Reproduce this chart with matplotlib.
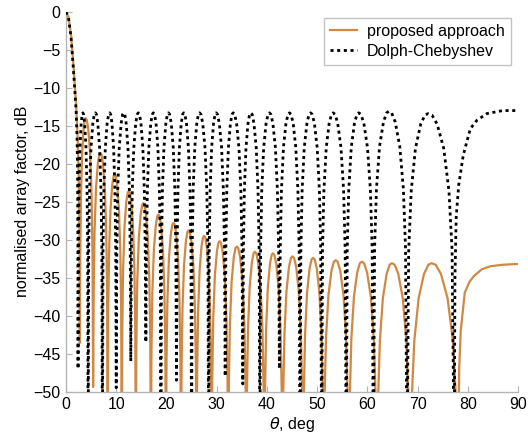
"""
Диаграмма направленности: предложенный подход и Дольф-Чебышев
"""

import matplotlib
matplotlib.use('Agg')
import matplotlib.pyplot as plt

plt.rcParams['font.family'] = ['Liberation Sans', 'DejaVu Sans']

# Dolph-Chebyshev (чёрная пунктирная), точки сняты с картинки
# каждая строка: ноль, левый склон, вершина, правый склон
dolph_theta = [
    0.0, 0.5, 1.0, 1.5, 2.0, 2.2, 2.3, 2.36,
    2.4, 2.48, 2.59, 2.78, 3.02, 3.21, 3.35, 3.51, 3.72, 3.98, 4.19, 4.32,
    4.4, 4.52, 4.69, 4.98, 5.34, 5.63, 5.85, 6.06, 6.34, 6.69, 6.97, 7.14,
    7.25, 7.37, 7.54, 7.83, 8.19, 8.48, 8.7, 8.90, 9.16, 9.48, 9.74, 9.90,
    10.0, 10.12, 10.30, 10.60, 10.98, 11.28, 11.5, 11.71, 11.99, 12.34, 12.62, 12.79,
    12.9, 13.02, 13.20, 13.50, 13.88, 14.18, 14.4, 14.63, 14.93, 15.30, 15.60, 15.78,
    15.9, 16.02, 16.20, 16.50, 16.88, 17.18, 17.4, 17.63, 17.93, 18.30, 18.60, 18.78,
    18.9, 19.02, 19.20, 19.50, 19.88, 20.18, 20.4, 20.64, 20.96, 21.36, 21.68, 21.87,
    22.0, 22.12, 22.29, 22.58, 22.94, 23.23, 23.45, 23.68, 23.99, 24.38, 24.69, 24.88,
    25.0, 25.13, 25.32, 25.64, 26.04, 26.36, 26.6, 26.87, 27.23, 27.68, 28.04, 28.26,
    28.4, 28.52, 28.70, 29.00, 29.38, 29.68, 29.9, 30.17, 30.53, 30.98, 31.34, 31.56,
    31.7, 31.83, 32.02, 32.34, 32.74, 33.06, 33.3, 33.59, 33.97, 34.44, 34.82, 35.05,
    35.2, 35.33, 35.52, 35.84, 36.24, 36.56, 36.8, 37.07, 37.43, 37.88, 38.24, 38.46,
    38.6, 38.75, 38.98, 39.36, 39.84, 40.22, 40.5, 40.80, 41.20, 41.70, 42.10, 42.34,
    42.5, 42.66, 42.90, 43.30, 43.80, 44.20, 44.5, 44.82, 45.24, 45.76, 46.18, 46.43,
    46.6, 46.77, 47.02, 47.44, 47.97, 48.39, 48.7, 49.03, 49.47, 50.02, 50.46, 50.72,
    50.9, 51.08, 51.36, 51.82, 52.40, 52.86, 53.2, 53.59, 54.11, 54.76, 55.28, 55.59,
    55.8, 56.00, 56.30, 56.80, 57.43, 57.93, 58.3, 58.74, 59.32, 60.04, 60.62, 60.97,
    61.2, 61.45, 61.82, 62.44, 63.22, 63.84, 64.3, 64.84, 65.56, 66.46, 67.18, 67.61,
    67.9, 68.24, 68.74, 69.58, 70.63, 71.47, 72.1, 72.88, 73.92, 75.22, 76.26, 76.88,
    77.3, 77.45, 77.7, 78.2, 79.1, 80.5, 81.8, 83.8, 87.0, 90.0,
]
dolph_db = [
    0.0, -0.8, -3.3, -7.8, -12.8, -16.5, -21.0, -30.0,
    -47.0, -31.3, -23.5, -17.9, -14.7, -13.5, -13.3, -13.5, -14.7, -17.9, -23.5, -31.3,
    -60.0, -31.3, -23.5, -17.9, -14.7, -13.5, -13.3, -13.5, -14.7, -17.9, -23.5, -31.3,
    -60.0, -31.3, -23.5, -17.9, -14.7, -13.5, -13.3, -13.5, -14.7, -17.9, -23.5, -31.3,
    -49.5, -31.3, -23.5, -17.9, -14.7, -13.5, -13.3, -13.5, -14.7, -17.9, -23.5, -31.3,
    -46.0, -31.3, -23.5, -17.9, -14.7, -13.5, -13.3, -13.5, -14.7, -17.9, -23.5, -31.3,
    -43.5, -31.3, -23.5, -17.9, -14.7, -13.5, -13.3, -13.5, -14.7, -17.9, -23.5, -31.3,
    -60.0, -31.3, -23.5, -17.9, -14.7, -13.5, -13.3, -13.5, -14.7, -17.9, -23.5, -31.3,
    -48.5, -31.3, -23.5, -17.9, -14.7, -13.5, -13.3, -13.5, -14.7, -17.9, -23.5, -31.3,
    -60.0, -31.3, -23.5, -17.9, -14.7, -13.5, -13.3, -13.5, -14.7, -17.9, -23.5, -31.3,
    -60.0, -31.3, -23.5, -17.9, -14.7, -13.5, -13.3, -13.5, -14.7, -17.9, -23.5, -31.3,
    -48.0, -31.3, -23.5, -17.9, -14.7, -13.5, -13.3, -13.5, -14.7, -17.9, -23.5, -31.3,
    -49.0, -31.3, -23.5, -17.9, -14.7, -13.5, -13.3, -13.5, -14.7, -17.9, -23.5, -31.3,
    -60.0, -31.3, -23.5, -17.9, -14.7, -13.5, -13.3, -13.5, -14.7, -17.9, -23.5, -31.3,
    -47.0, -31.3, -23.5, -17.9, -14.7, -13.5, -13.3, -13.5, -14.7, -17.9, -23.5, -31.3,
    -60.0, -31.3, -23.5, -17.9, -14.7, -13.5, -13.3, -13.5, -14.7, -17.9, -23.5, -31.3,
    -60.0, -31.3, -23.5, -17.9, -14.7, -13.5, -13.3, -13.5, -14.7, -17.9, -23.5, -31.3,
    -60.0, -31.3, -23.5, -17.9, -14.7, -13.5, -13.3, -13.5, -14.7, -17.9, -23.5, -31.3,
    -60.0, -31.1, -23.3, -17.7, -14.5, -13.3, -13.1, -13.3, -14.5, -17.7, -23.3, -31.1,
    -60.0, -31.4, -23.6, -18.0, -14.8, -13.6, -13.4, -13.6, -14.8, -18.0, -23.6, -31.4,
    -60.0, -35.0, -27.0, -22.8, -18.9, -15.4, -14.3, -13.4, -13.0, -13.0,
]

# предложенный подход (оранжевая линия)
proposed_theta = [
    0.0, 0.5, 1.0, 1.5, 2.0, 2.3, 2.55, 2.7,
    2.75, 2.84, 2.98, 3.21, 3.50, 3.73, 3.9, 4.13, 4.43, 4.80, 5.10, 5.28,
    5.4, 5.52, 5.69, 5.98, 6.34, 6.63, 6.85, 7.07, 7.36, 7.72, 8.01, 8.18,
    8.3, 8.41, 8.58, 8.86, 9.21, 9.49, 9.7, 9.91, 10.19, 10.54, 10.82, 10.99,
    11.1, 11.21, 11.38, 11.66, 12.01, 12.29, 12.5, 12.71, 12.99, 13.34, 13.62, 13.79,
    13.9, 14.02, 14.20, 14.50, 14.88, 15.18, 15.4, 15.63, 15.93, 16.30, 16.60, 16.78,
    16.9, 17.02, 17.20, 17.50, 17.88, 18.18, 18.4, 18.63, 18.93, 19.30, 19.60, 19.78,
    19.9, 20.02, 20.20, 20.50, 20.88, 21.18, 21.4, 21.63, 21.93, 22.30, 22.60, 22.78,
    22.9, 23.02, 23.20, 23.50, 23.88, 24.18, 24.4, 24.64, 24.96, 25.36, 25.68, 25.87,
    26.0, 26.12, 26.30, 26.60, 26.98, 27.28, 27.5, 27.73, 28.03, 28.40, 28.70, 28.88,
    29.0, 29.13, 29.32, 29.64, 30.04, 30.36, 30.6, 30.86, 31.20, 31.62, 31.96, 32.16,
    32.3, 32.44, 32.64, 32.98, 33.41, 33.75, 34.0, 34.29, 34.67, 35.14, 35.52, 35.75,
    35.9, 36.04, 36.24, 36.58, 37.01, 37.35, 37.6, 37.89, 38.27, 38.74, 39.12, 39.35,
    39.5, 39.64, 39.84, 40.18, 40.61, 40.95, 41.2, 41.49, 41.87, 42.34, 42.72, 42.95,
    43.1, 43.26, 43.50, 43.90, 44.40, 44.80, 45.1, 45.42, 45.84, 46.36, 46.78, 47.03,
    47.2, 47.36, 47.60, 48.00, 48.50, 48.90, 49.2, 49.52, 49.94, 50.46, 50.88, 51.13,
    51.3, 51.49, 51.78, 52.26, 52.86, 53.34, 53.7, 54.09, 54.61, 55.26, 55.78, 56.09,
    56.3, 56.51, 56.82, 57.34, 57.99, 58.51, 58.9, 59.35, 59.95, 60.70, 61.30, 61.66,
    61.9, 62.14, 62.50, 63.10, 63.85, 64.45, 64.9, 65.44, 66.16, 67.06, 67.78, 68.21,
    68.5, 68.84, 69.36, 70.22, 71.30, 72.16, 72.8, 73.60, 74.66, 75.98, 77.04, 77.68,
    78.1, 78.3, 78.6, 79.4, 80.3, 81.2, 82.8, 84.5, 87.0, 90.0,
]
proposed_db = [
    0.0, -0.7, -3.0, -7.2, -12.2, -16.3, -22.0, -31.0,
    -43.6, -32.0, -24.2, -18.6, -15.4, -14.2, -14.0, -14.2, -15.4, -18.6, -24.2, -32.0,
    -49.4, -36.6, -28.8, -23.2, -20.0, -18.8, -18.6, -18.8, -20.0, -23.2, -28.8, -36.6,
    -60.0, -39.4, -31.6, -26.0, -22.8, -21.6, -21.4, -21.6, -22.8, -26.0, -31.6, -39.4,
    -60.0, -41.6, -33.8, -28.2, -25.0, -23.8, -23.6, -23.8, -25.0, -28.2, -33.8, -41.6,
    -60.0, -43.2, -35.4, -29.8, -26.6, -25.4, -25.2, -25.4, -26.6, -29.8, -35.4, -43.2,
    -60.0, -44.7, -36.9, -31.3, -28.1, -26.9, -26.7, -26.9, -28.1, -31.3, -36.9, -44.7,
    -60.0, -45.8, -38.0, -32.4, -29.2, -28.0, -27.8, -28.0, -29.2, -32.4, -38.0, -45.8,
    -60.0, -46.8, -39.0, -33.4, -30.2, -29.0, -28.8, -29.0, -30.2, -33.4, -39.0, -46.8,
    -60.0, -47.5, -39.7, -34.1, -30.9, -29.7, -29.5, -29.7, -30.9, -34.1, -39.7, -47.5,
    -60.0, -48.2, -40.4, -34.8, -31.6, -30.4, -30.2, -30.4, -31.6, -34.8, -40.4, -48.2,
    -60.0, -48.9, -41.1, -35.5, -32.3, -31.1, -30.9, -31.1, -32.3, -35.5, -41.1, -48.9,
    -60.0, -49.6, -41.8, -36.2, -33.0, -31.8, -31.6, -31.8, -33.0, -36.2, -41.8, -49.6,
    -60.0, -49.8, -42.0, -36.4, -33.2, -32.0, -31.8, -32.0, -33.2, -36.4, -42.0, -49.8,
    -60.0, -50.2, -42.4, -36.8, -33.6, -32.4, -32.2, -32.4, -33.6, -36.8, -42.4, -50.2,
    -60.0, -50.4, -42.6, -37.0, -33.8, -32.6, -32.4, -32.6, -33.8, -37.0, -42.6, -50.4,
    -60.0, -50.7, -42.9, -37.3, -34.1, -32.9, -32.7, -32.9, -34.1, -37.3, -42.9, -50.7,
    -60.0, -50.9, -43.1, -37.5, -34.3, -33.1, -32.9, -33.1, -34.3, -37.5, -43.1, -50.9,
    -60.0, -51.1, -43.3, -37.7, -34.5, -33.3, -33.1, -33.3, -34.5, -37.7, -43.3, -51.1,
    -60.0, -51.1, -43.3, -37.7, -34.5, -33.3, -33.1, -33.3, -34.5, -37.7, -43.3, -51.1,
    -60.0, -47.0, -42.0, -37.0, -35.6, -34.8, -33.9, -33.5, -33.3, -33.2,
]

x_ticks = [0, 10, 20, 30, 40, 50, 60, 70, 80, 90]
y_ticks = [0, -5, -10, -15, -20, -25, -30, -35, -40, -45, -50]

ORANGE = '#CF8944'
GREY = '#B4B4B4'
FS = 11.5

fig = plt.figure(figsize=(5.28, 4.38), dpi=100)
ax = fig.add_axes([0.125, 0.106, 0.856, 0.867])

ax.plot(proposed_theta, proposed_db, color=ORANGE, lw=1.6,
        label='proposed approach', zorder=2)
ax.plot(dolph_theta, dolph_db, color='black', lw=2.0,
        linestyle=(0, (1.1, 1.3)), label='Dolph-Chebyshev', zorder=3)

ax.set_xlim(0, 90)
ax.set_ylim(-50, 0)
ax.set_xticks(x_ticks)
ax.set_yticks(y_ticks)

for side in ['top', 'right']:
    ax.spines[side].set_visible(False)
for side in ['left', 'bottom']:
    ax.spines[side].set_color(GREY)
    ax.spines[side].set_linewidth(1.0)

ax.tick_params(direction='in', length=4, width=0.8, color=GREY,
               labelsize=FS, labelcolor='black', pad=4)

ax.set_xlabel(r'$\theta$, deg', fontsize=FS, labelpad=2)
ax.set_ylabel('normalised array factor, dB', fontsize=FS, labelpad=2)

leg = ax.legend(loc='upper right', bbox_to_anchor=(0.985, 0.985),
                borderaxespad=0, fancybox=False, fontsize=FS,
                handlelength=1.7, handletextpad=0.6, borderpad=0.4,
                labelspacing=0.3)
leg.get_frame().set_edgecolor(GREY)
leg.get_frame().set_linewidth(1.0)

fig.savefig('out.png', dpi=100)
plt.close(fig)
